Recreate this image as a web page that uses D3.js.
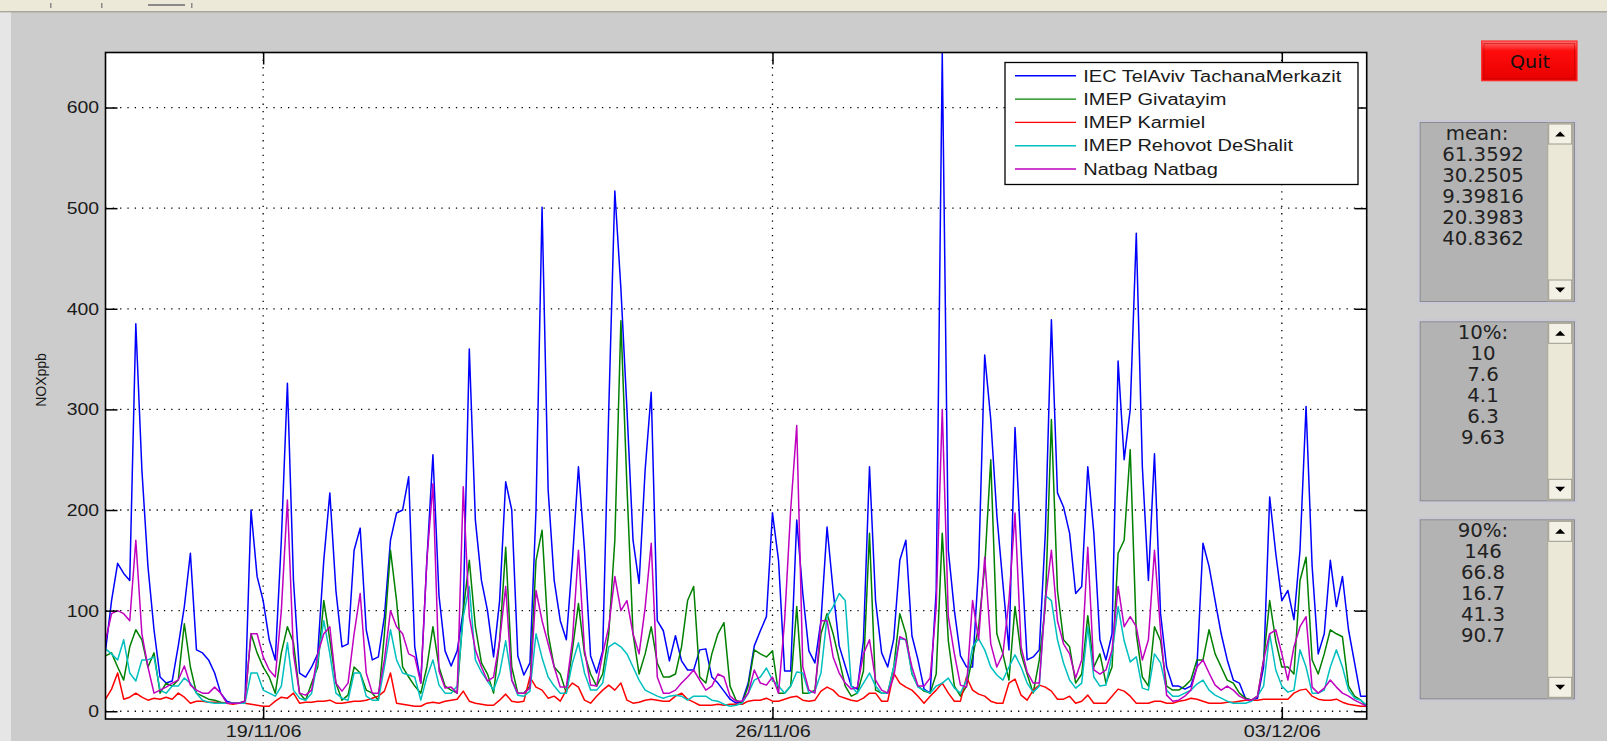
<!DOCTYPE html>
<html>
<head>
<meta charset="utf-8">
<script src="https://cdn.jsdelivr.net/npm/d3@7/dist/d3.min.js"></script>
<style>
  html, body { margin: 0; padding: 0; background: #cccccc; overflow: hidden; }
  svg { display: block; }
</style>
</head>
<body>
<svg id="fig" width="1607" height="741"></svg>
<script>
// ---- data: hourly NOx readings sampled every 2 hours, 16/11/06 20:00 to 04/12/06 04:00
const startTime = new Date(2006, 10, 16, 20, 0);
const stepHours = 2;

const seriesNames = ["IEC TelAviv TachanaMerkazit", "IMEP Givatayim", "IMEP Karmiel",
                     "IMEP Rehovot DeShalit", "Natbag Natbag"];
const seriesColors = ["#0000ff", "#008000", "#ff0000", "#00bfbf", "#bf00bf"];

const iecTelAviv = [60,110,147,137,130,385,240,144,81,34,
  28,30,65,104,157,61,58,51,38,18, 10,8,8,10,200,134,110,71,51,170,
  326,130,38,34,44,57,150,217,120,64, 67,160,182,81,51,54,94,170,197,200,
  233,64,28,150,255,115,60,45,60,100, 360,190,130,100,54,110,228,200,55,36,
  48,200,501,220,130,90,71,150,243,160, 55,38,60,300,517,420,300,170,127,240,
  317,90,80,50,75,50,41,41,61,62, 34,28,20,12,8,10,28,65,80,94,
  197,150,40,40,190,117,60,48,90,183, 120,65,45,25,22,70,243,110,58,44,
  72,150,170,75,51,22,18,120,654,160, 100,55,44,44,144,354,290,195,127,61,
  282,160,51,54,61,177,389,217,203,177, 117,124,243,177,71,51,77,348,250,300,
  475,243,130,256,97,44,25,25,22,25, 44,167,144,110,77,51,31,28,13,11,
  13,44,213,157,110,120,91,160,303,144, 57,77,150,104,134,81,48,15,15];

const imepGivatayim = [55,58,44,31,64,81,71,44,58,18,
  28,25,31,87,44,18,15,12,11,9, 8,8,8,10,77,58,44,34,18,58,
  84,68,18,11,28,44,110,71,28,11, 16,44,38,21,18,11,77,160,110,44,
  34,25,18,44,84,44,25,21,18,100, 150,84,48,37,18,70,163,44,18,18,
  25,150,180,77,44,37,18,61,107,57, 37,25,37,77,170,388,223,77,37,57,
  84,48,34,34,37,64,110,124,34,28, 57,77,88,25,11,8,25,61,57,54,
  60,18,18,25,104,18,18,21,77,97, 77,51,25,15,18,40,177,21,18,18,
  44,97,77,37,25,20,18,37,177,70, 25,15,25,54,84,144,250,77,57,31,
  104,57,37,18,51,104,290,120,71,64, 28,37,95,44,57,28,44,157,170,260,
  77,34,25,84,70,25,21,21,25,31, 51,51,81,57,44,31,28,18,13,11,
  15,51,110,70,44,44,37,130,153,51, 37,57,81,77,74,25,15,11,5];

const imepKarmiel = [12,22,38,12,14,18,14,11,13,12,
  14,12,18,14,8,10,10,9,9,8, 8,7,8,8,7,6,5,5,10,14,
  13,18,8,9,9,10,10,11,8,8, 9,10,10,11,13,15,20,38,8,7,
  6,5,5,8,9,8,10,11,12,20, 10,8,7,6,6,11,17,10,9,10,
  34,24,21,13,15,10,21,28,24,11, 8,15,21,26,21,28,11,8,9,11,
  12,11,10,10,15,18,12,9,6,6, 6,7,6,7,7,7,10,11,11,13,
  10,10,12,14,15,11,10,11,20,24, 21,15,13,11,10,13,18,18,10,10,
  38,28,24,21,15,8,15,21,28,18, 10,10,34,21,17,15,10,8,8,28,
  32,16,11,21,26,24,20,12,12,15, 8,10,16,8,8,8,15,22,20,15,
  8,8,8,10,10,8,8,10,11,13, 12,10,8,8,8,9,9,10,11,11,
  11,12,12,12,12,12,18,21,22,15, 12,11,11,12,9,7,6,5,5];

const imepRehovot = [62,57,51,71,38,30,51,51,54,21,
  18,25,25,33,28,18,11,9,8,8, 8,8,8,8,38,38,21,18,15,25,
  68,21,13,11,18,50,90,57,18,13, 11,38,38,15,11,11,44,81,51,38,
  36,34,11,34,51,26,18,18,25,94, 124,51,39,30,21,38,70,31,16,15,
  20,77,53,34,25,18,18,48,68,38, 21,21,28,64,68,64,57,44,31,21,
  18,15,13,15,16,15,11,15,15,15, 11,10,7,5,6,8,18,31,34,43,
  31,25,18,25,39,38,18,20,38,94, 104,117,110,25,18,28,38,25,18,18,
  44,72,71,38,24,21,18,25,28,33, 23,18,31,64,72,61,44,36,31,44,
  56,44,28,19,25,115,110,71,48,31, 23,28,84,34,25,26,57,104,70,49,
  54,23,21,57,48,21,15,15,18,21, 27,31,21,16,13,10,8,8,8,10,
  15,25,77,41,25,19,21,61,44,18, 18,21,44,61,44,21,13,11,6];

const natbag = [70,97,100,97,90,170,77,44,18,21,
  24,28,31,45,26,21,18,18,24,18, 8,8,8,10,77,77,54,41,34,100,
  210,57,18,16,21,57,77,84,28,20, 28,77,117,38,18,18,51,100,84,77,
  57,54,28,150,226,40,23,24,18,223, 94,61,44,30,34,70,124,31,18,18,
  23,120,90,67,44,24,24,70,160,61, 26,25,57,84,134,100,110,77,57,103,
  167,34,18,18,21,28,34,41,31,21, 25,37,34,15,10,10,18,41,28,26,
  34,18,90,200,284,44,21,18,90,90, 54,38,28,22,24,57,71,31,21,18,
  34,74,71,44,25,25,33,103,300,94, 57,26,24,110,71,153,67,44,57,110,
  197,64,39,28,28,110,160,90,67,57, 33,51,163,41,37,41,61,124,84,94,
  84,51,71,160,80,16,10,11,15,21, 44,51,38,26,21,25,21,15,12,11,
  15,51,77,81,57,31,64,84,94,24, 18,23,31,24,18,15,11,8,5];

const allSeries = [iecTelAviv, imepGivatayim, imepKarmiel, imepRehovot, natbag];

const yTicks = [0, 100, 200, 300, 400, 500, 600];
const xTickDates = [new Date(2006, 10, 19), new Date(2006, 10, 26), new Date(2006, 11, 3)];
const yLabel = "NOXppb";

const meanValues = ["61.3592", "30.2505", "9.39816", "20.3983", "40.8362"];
const p10Values = ["10", "7.6", "4.1", "6.3", "9.63"];
const p90Values = ["146", "66.8", "16.7", "41.3", "90.7"];

// ---- layout
const plot = {left: 105.5, right: 1366.7, top: 52.5, bottom: 719};
const tickFont = "'Liberation Sans', Arial, sans-serif";
const boxFont = "'DejaVu Sans', sans-serif";

const svg = d3.select("#fig");

// stretch text horizontally, the screenshot fonts are wider than ours
function stretch(sel, k) {
    sel.each(function () {
        let w = this.getComputedTextLength();
        d3.select(this).attr("textLength", w * k).attr("lengthAdjust", "spacingAndGlyphs");
    });
}

// window chrome
svg.append("rect").attr("width", 1607).attr("height", 741).attr("fill", "#cccccc");
svg.append("rect").attr("width", 1607).attr("height", 11).attr("fill", "#ece9d8");
svg.append("rect").attr("y", 11).attr("width", 1607).attr("height", 1.5).attr("fill", "#a9a69a");
svg.append("rect").attr("y", 12.5).attr("width", 11).attr("height", 729).attr("fill", "#e6e6e6");
[50, 101, 191].forEach(px => svg.append("rect").attr("x", px).attr("y", 3).attr("width", 1.5).attr("height", 5).attr("fill", "#8a8a8a"));
svg.append("rect").attr("x", 148).attr("y", 4).attr("width", 37).attr("height", 2).attr("fill", "#8a8a8a");

const endTime = d3.timeHour.offset(startTime, stepHours * (iecTelAviv.length - 1));

const x = d3.scaleTime().domain([startTime, endTime]).range([plot.left, plot.right]);
const y = d3.scaleLinear().domain([-7.7, 654.7]).range([plot.bottom, plot.top]);

svg.append("rect")
    .attr("x", plot.left).attr("y", plot.top)
    .attr("width", plot.right - plot.left).attr("height", plot.bottom - plot.top)
    .attr("fill", "#ffffff");

// dotted grid
const grid = svg.append("g").attr("stroke", "#000").attr("stroke-width", 1.3)
    .attr("stroke-dasharray", "1.3,6");
grid.selectAll("line.h").data(yTicks).enter().append("line")
    .attr("x1", plot.left).attr("x2", plot.right)
    .attr("y1", d => y(d)).attr("y2", d => y(d));
grid.selectAll("line.v").data(xTickDates).enter().append("line")
    .attr("x1", d => x(d)).attr("x2", d => x(d))
    .attr("y1", plot.top).attr("y2", plot.bottom);

// series
svg.append("clipPath").attr("id", "plotclip").append("rect")
    .attr("x", plot.left).attr("y", plot.top)
    .attr("width", plot.right - plot.left).attr("height", plot.bottom - plot.top);

const line = d3.line()
    .x((d, i) => x(d3.timeHour.offset(startTime, stepHours * i)))
    .y(d => y(d));

svg.append("g").attr("clip-path", "url(#plotclip)")
    .selectAll("path").data(allSeries).enter().append("path")
    .attr("d", line)
    .attr("fill", "none")
    .attr("stroke", (d, i) => seriesColors[i])
    .attr("stroke-width", 1.5)
    .attr("stroke-linejoin", "round");

// axes, ticks inside on all four sides
const tickLen = 12;
const axLeft = svg.append("g").attr("transform", `translate(${plot.left},0)`)
    .call(d3.axisLeft(y).tickValues(yTicks).tickSize(-tickLen).tickPadding(6.5));
const axBottom = svg.append("g").attr("transform", `translate(0,${plot.bottom})`)
    .call(d3.axisBottom(x).tickValues(xTickDates).tickSize(-tickLen).tickPadding(6)
        .tickFormat(d3.timeFormat("%d/%m/%y")));
const axRight = svg.append("g").attr("transform", `translate(${plot.right},0)`)
    .call(d3.axisRight(y).tickValues(yTicks).tickSize(-tickLen).tickFormat(""));
const axTop = svg.append("g").attr("transform", `translate(0,${plot.top})`)
    .call(d3.axisTop(x).tickValues(xTickDates).tickSize(-tickLen).tickFormat(""));

[axLeft, axBottom, axRight, axTop].forEach(ax => {
    ax.select(".domain").remove();
    ax.selectAll(".tick line").attr("stroke", "#000").attr("stroke-width", 1.5);
    ax.selectAll("text").attr("font-family", tickFont).attr("font-size", 17).attr("fill", "#1a1a1a");
});
axBottom.selectAll("text").attr("font-size", 16.5);
stretch(axLeft.selectAll("text"), 1.14);
stretch(axBottom.selectAll("text"), 1.2);

svg.append("rect")
    .attr("x", plot.left).attr("y", plot.top)
    .attr("width", plot.right - plot.left).attr("height", plot.bottom - plot.top)
    .attr("fill", "none").attr("stroke", "#000").attr("stroke-width", 1.6);

svg.append("text")
    .attr("transform", "translate(46,380) rotate(-90)")
    .attr("text-anchor", "middle")
    .attr("font-family", tickFont).attr("font-size", 14)
    .attr("fill", "#1a1a1a")
    .text(yLabel);

// legend
const legend = svg.append("g").attr("transform", "translate(1005,62.5)");
legend.append("rect").attr("width", 353).attr("height", 122)
    .attr("fill", "#fff").attr("stroke", "#000").attr("stroke-width", 1.3);
const items = legend.selectAll("g.item").data(seriesNames).enter().append("g")
    .attr("transform", (d, i) => `translate(0,${13.3 + i * 23.3})`);
items.append("line").attr("x1", 10).attr("x2", 71)
    .attr("stroke", (d, i) => seriesColors[i]).attr("stroke-width", 1.4);
const legendText = items.append("text").attr("x", 78.3).attr("dy", "0.36em")
    .attr("font-family", tickFont).attr("font-size", 16).attr("fill", "#1a1a1a")
    .text(d => d);
stretch(legendText, 1.25);

// quit button
const grad = svg.append("defs").append("linearGradient").attr("id", "quitgrad")
    .attr("x1", 0).attr("y1", 0).attr("x2", 0).attr("y2", 1);
grad.append("stop").attr("offset", 0).attr("stop-color", "#ff7070");
grad.append("stop").attr("offset", 0.25).attr("stop-color", "#ff0c0c");
grad.append("stop").attr("offset", 1).attr("stop-color", "#e80000");
svg.append("rect").attr("x", 1481.7).attr("y", 41).attr("width", 95.3).attr("height", 39.7)
    .attr("fill", "url(#quitgrad)").attr("stroke", "#ff2a2a").attr("stroke-width", 1.2);
svg.append("rect").attr("x", 1484).attr("y", 43.5).attr("width", 90.5).attr("height", 35)
    .attr("fill", "none").attr("stroke", "#b00000").attr("stroke-width", 0.8).attr("opacity", 0.6);
const quit = svg.append("text").attr("x", 1530).attr("y", 61.7).attr("dy", "0.36em")
    .attr("text-anchor", "middle").attr("font-family", boxFont).attr("font-size", 17)
    .attr("fill", "#111").text("Quit");
stretch(quit, 1.12);

// stats list boxes
function listbox(y0, header, values) {
    const g = svg.append("g").attr("transform", `translate(1417.7,${y0})`);
    const w = 159.3, h = 184;
    g.append("rect").attr("width", w).attr("height", h).attr("fill", "#c8c8d6");
    g.append("rect").attr("x", 2).attr("y", 2).attr("width", w - 4).attr("height", h - 4).attr("fill", "#8c8c8c");
    g.append("rect").attr("x", 3).attr("y", 3).attr("width", w - 6).attr("height", h - 6).attr("fill", "#b3b3b3");
    // scrollbar
    g.append("rect").attr("x", 130).attr("y", 3).attr("width", 25).attr("height", h - 6)
        .attr("fill", "#ebe8d8").attr("stroke", "#a8a698").attr("stroke-width", 1);
    [4, h - 24].forEach((by, k) => {
        g.append("rect").attr("x", 131).attr("y", by).attr("width", 23).attr("height", 20)
            .attr("fill", "#f3f1e6").attr("stroke", "#9c9a8e").attr("stroke-width", 1);
        let cy = by + 10;
        let pts = k === 0
            ? [[137.5, cy + 2.5], [147.5, cy + 2.5], [142.5, cy - 2.5]]
            : [[137.5, cy - 2.5], [147.5, cy - 2.5], [142.5, cy + 2.5]];
        g.append("polygon").attr("points", pts.map(p => p.join(",")).join(" ")).attr("fill", "#000");
    });
    const lines = [header].concat(values);
    const t = g.selectAll("text").data(lines).enter().append("text")
        .attr("x", (d, i) => i === 0 && header === "mean:" ? 59.3 : 65.3)
        .attr("y", (d, i) => 12.8 + i * 21)
        .attr("dy", "0.36em")
        .attr("text-anchor", "middle")
        .attr("font-family", boxFont).attr("font-size", 19).attr("fill", "#222")
        .text(d => d);
    stretch(t, 1.04);
}
listbox(120, "mean:", meanValues);
listbox(319.3, "10%:", p10Values);
listbox(517.3, "90%:", p90Values);
</script>
</body>
</html>
